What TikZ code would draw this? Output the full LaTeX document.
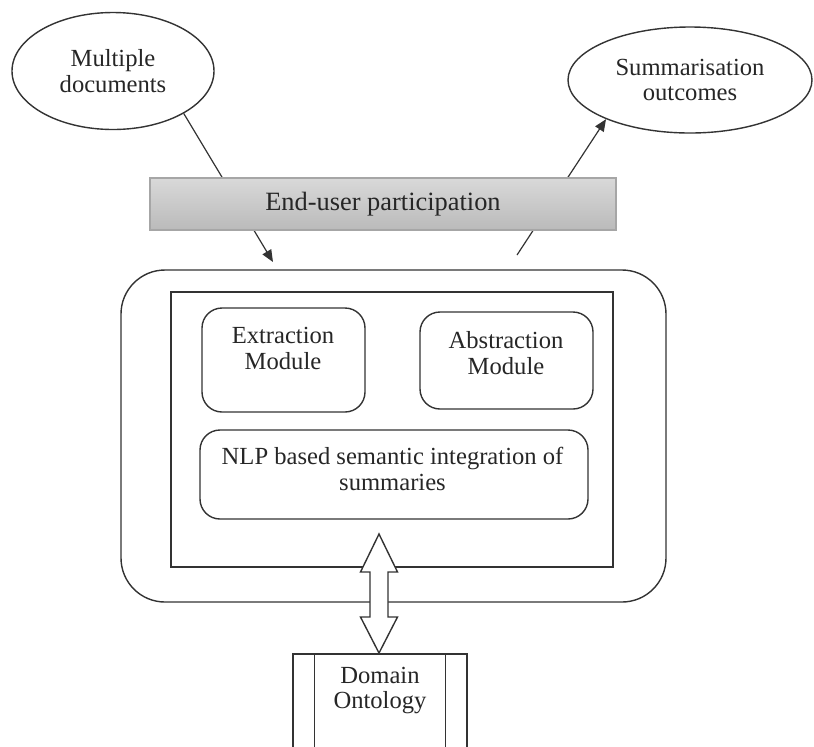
\documentclass[tikz,border=0pt]{standalone}
\usepackage{fontspec}
\setmainfont{Liberation Serif}
\usetikzlibrary{shapes.geometric,arrows.meta,calc}
\begin{document}
\begin{tikzpicture}[x=0.5pt,y=-0.5pt,
  lbl/.style={align=center,font=\fontsize{12.3}{12.8}\selectfont,text=black!85,inner sep=0pt},
  oval/.style={ellipse,draw=black!80,line width=0.7pt,inner sep=0pt,align=center,font=\fontsize{12.3}{12.8}\selectfont,text=black!85},
  rbox/.style={draw=black!80,line width=0.7pt,rounded corners=10pt,inner sep=0pt},
  sbox/.style={draw=black!80,line width=0.7pt,inner sep=0pt},
  conn/.style={draw=black!80,line width=0.6pt,-{Triangle[length=6pt,width=5pt]}},
]
\useasboundingbox (0,0) rectangle (814,746);
\clip (0,0) rectangle (814,746);

% ellipses
\node[oval,minimum width=101pt,minimum height=58.5pt] (docs) at (113,71) {Multiple\\documents};
\node[oval,minimum width=122pt,minimum height=53pt] (outc) at (690,80) {Summarisation\\outcomes};

% connectors (behind the end-user bar)
\coordinate (a1) at (273,262);
\coordinate (a2) at (517,255);
\draw[conn] (docs.-31) -- (a1);
\draw[conn] (a2) -- (outc.205);

% end-user bar
\node[draw=black!35,line width=0.6pt,top color=black!15,bottom color=black!27,
      minimum width=233pt,minimum height=26pt,inner sep=0pt,
      font=\fontsize{13.2}{14}\selectfont,text=black!85] (user) at (383,204) {End-user participation};

% outer rounded frame and inner rectangle
\node[sbox,rounded corners=22pt,minimum width=272.5pt,minimum height=166pt] (outer) at (393.5,436) {};
\node[sbox,minimum width=221pt,minimum height=137.5pt] (core) at (392,429.5) {};

% modules
\node[rbox,minimum width=81.5pt,minimum height=52pt] (ext) at (283.5,360) {};
\node[lbl] (extt) at (283,348.5) {Extraction\\Module};
\node[rbox,minimum width=86.5pt,minimum height=48.5pt] (abs) at (506.5,360.5) {};
\node[lbl] (abst) at (506,353) {Abstraction\\Module};
\node[rbox,minimum width=194pt,minimum height=44.5pt] (nlp) at (394,474.5) {};
\node[lbl] (nlpt) at (392.5,469) {NLP based semantic integration of\\summaries};

% domain ontology (cut by the bottom edge)
\node[sbox,minimum width=87pt,minimum height=63pt] (onto) at (380,717) {};
\draw[black!80,line width=0.7pt] ($(onto.north west)+(22,0)$) -- ($(onto.south west)+(22,0)$);
\draw[black!80,line width=0.7pt] ($(onto.north east)+(-22,0)$) -- ($(onto.south east)+(-22,0)$);
\node[lbl] (ontot) at (380,690.5) {Domain\\Ontology};

% double arrow between core and ontology
\draw[black!80,line width=0.7pt,fill=white,line join=miter]
  (379,534) -- (397.5,572) -- (388,572) -- (388,617) -- (397.5,617) -- (379,653)
  -- (360.5,617) -- (370,617) -- (370,572) -- (360.5,572) -- cycle;
\end{tikzpicture}
\end{document}
